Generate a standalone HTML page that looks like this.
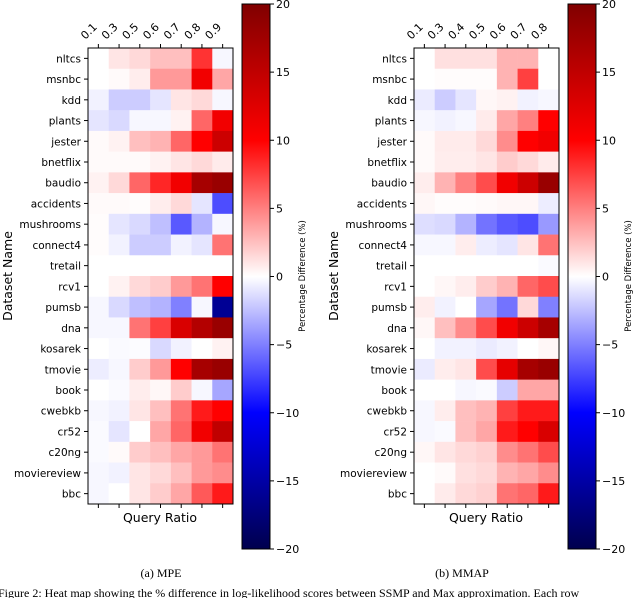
<!DOCTYPE html>
<html><head><meta charset="utf-8"><style>
body{margin:0;background:#fff;}
svg text{font-family:"DejaVu Sans","Liberation Sans",sans-serif;}
</style></head><body>
<svg id="fig" width="640" height="598" viewBox="0 0 640 598" xmlns="http://www.w3.org/2000/svg">
<defs>
<linearGradient id="seis" x1="0" y1="1" x2="0" y2="0">
<stop offset="0" stop-color="rgb(0,0,77)"/>
<stop offset="0.25" stop-color="rgb(0,0,255)"/>
<stop offset="0.5" stop-color="rgb(255,255,255)"/>
<stop offset="0.75" stop-color="rgb(255,0,0)"/>
<stop offset="1" stop-color="rgb(128,0,0)"/>
</linearGradient>
</defs>
<g id="root"></g>
<text x="161" y="577" text-anchor="middle" font-size="12" style="font-family:'Liberation Serif',serif">(a) MPE</text>
<text x="462" y="577" text-anchor="middle" font-size="12" style="font-family:'Liberation Serif',serif">(b) MMAP</text>
<text x="-2" y="597" font-size="12" style="font-family:'Liberation Serif',serif">Figure 2: Heat map showing the % difference in log-likelihood scores between SSMP and Max approximation. Each row</text>
</svg>
<script>
const datasets = ["nltcs","msnbc","kdd","plants","jester","bnetflix","baudio","accidents","mushrooms","connect4","tretail","rcv1","pumsb","dna","kosarek","tmovie","book","cwebkb","cr52","c20ng","moviereview","bbc"];
const mpeRatios = ["0.1","0.3","0.5","0.6","0.7","0.8","0.9"];
const mmapRatios = ["0.1","0.3","0.4","0.5","0.6","0.7","0.8"];
const cbTicks = [20,15,10,5,0,-5,-10,-15,-20];
const mpeValues = [
[0,1,1.5,2.5,2.5,8,-0.3],
[0,0.2,0.7,4,4,11,3.5],
[-0.5,-2,-2,-1,1,1.5,-0.3],
[-1,-1.5,-0.3,-0.3,0.5,6,11],
[0.2,0.5,2.5,3,6,10,14],
[0.2,0.2,0.2,0.5,1,1.5,0.8],
[0.5,1.5,6,8.5,11,17,18],
[0.2,0.2,0.1,0.7,1.5,-1,-7],
[0.1,-1,-1.5,-2.5,-6.5,-3,-0.3],
[0.1,-0.5,-2,-2,-0.5,-1,5.5],
[0,0,0,0,0,0,0],
[0,0.5,1.5,2,4,5.5,10],
[-0.3,-1.5,-2.5,-3,-5,-0.3,-16],
[-0.3,-0.3,5.5,7.5,13,16,18],
[0,-0.2,-0.1,-1.5,-0.5,0,0.5],
[-0.7,-0.3,2,4,10,17,18],
[0,-0.2,0.7,0.3,2,-0.3,-3.5],
[-0.3,-0.5,1,2.5,5.5,9,10],
[-0.2,-1,0,3.5,6,11,15],
[-0.2,0.2,2,2.5,3.5,4,5.5],
[-0.3,-0.5,1,1.5,2.5,4,4.5],
[-0.3,0,1,2,3.5,6.5,9]];
const mmapValues = [
[0,1.2,1.2,1.2,3,3,0],
[0,0.1,0.1,0.1,3,7.5,0],
[-0.8,-2,-1,0.3,0.5,-0.5,-0.3],
[-0.3,-0.5,-0.3,0.8,3.5,5,10],
[0.2,0.8,0.8,1.5,4.5,10,11],
[0.2,0.7,0.7,1,2,1.5,0.8],
[0.7,3,5,7,11,14,18],
[0.3,0.1,0.1,0.2,0.3,0.3,-0.7],
[-1.3,-1.5,-3,-5.5,-6.5,-7,-4],
[-0.3,-0.3,0.7,-0.7,-1,1,5.5],
[0,0,0,0,0,0,-0.2],
[0,0.3,0.7,2,3,6,7],
[0.7,-0.5,0,-3.5,-5.5,1.5,-5],
[0.3,2.5,4.5,7,11,14,17],
[0,-0.5,-0.5,-0.8,-0.5,0,0.3],
[-0.8,0.7,1,7,12,17,18],
[0,0,-0.3,-0.2,-2,3.5,3.5],
[-0.3,0.7,2.5,3,7.5,9,9],
[-0.3,-0.2,2.5,3.5,9,10,13],
[0.3,1,1.5,1.8,4.5,5.5,7],
[0,0.2,1.2,1.5,3,3.5,4.5],
[0,0.8,1.5,1.8,5.5,6,9]];

const NS="http://www.w3.org/2000/svg";
const root=document.getElementById('root');
function mk(tag,attrs,parent){const e=document.createElementNS(NS,tag);for(const k in attrs)e.setAttribute(k,attrs[k]);(parent||root).appendChild(e);return e;}
function seismic(v){
  let t=Math.max(0,Math.min(1,(v+20)/40));
  const st=[[0,[0,0,77]],[0.25,[0,0,255]],[0.5,[255,255,255]],[0.75,[255,0,0]],[1,[128,0,0]]];
  for(let i=0;i<4;i++){const a=st[i],b=st[i+1];if(t<=b[0]){const f=(t-a[0])/(b[0]-a[0]);return 'rgb('+a[1].map((c,j)=>Math.round(c+(b[1][j]-c)*f)).join(',')+')';}}
  return 'rgb(128,0,0)';
}
function heatmap(prefix,x0,values,ratios,cbx){
  const y0=48, cw=145/ratios.length, ch=456/datasets.length;
  const xs=i=>x0+i*cw, ys=j=>y0+j*ch;
  const g=mk('g',{});
  
  
  values.forEach((row,j)=>row.forEach((v,i)=>{
    const r=mk('rect',{x:xs(i),y:ys(j),width:cw+0.3,height:ch+0.3,fill:seismic(v)},g);
    
    
  }));
  mk('rect',{x:x0,y:y0,width:145,height:456,fill:'none',stroke:'#000','stroke-width':1},g);
  datasets.forEach((d,j)=>{
    const cy=ys(j)+ch/2;
    mk('line',{x1:x0-4,x2:x0,y1:cy,y2:cy,stroke:'#000'},g);
    const t=mk('text',{x:x0-7,y:cy+4,'text-anchor':'end','font-size':10.5},g);
    t.textContent=d;
    
    
  });
  ratios.forEach((r,i)=>{
    const cx=xs(i)+cw/2;
    mk('line',{x1:cx,x2:cx,y1:y0-4,y2:y0,stroke:'#000'},g);
    mk('line',{x1:cx,x2:cx,y1:y0+456,y2:y0+460,stroke:'#000'},g);
    const t=mk('text',{transform:'translate('+(cx-13)+',40) rotate(-45)','font-size':11},g);
    t.textContent=r;
    
    
  });
  const xl=mk('text',{x:x0+72,y:522,'text-anchor':'middle','font-size':12.5},g);
  xl.textContent='Query Ratio';
  
  
  const yl=mk('text',{transform:'translate('+(x0-76)+',276) rotate(-90)','text-anchor':'middle','font-size':12.5},g);
  yl.textContent='Dataset Name';
  
  
  const cb=mk('g',{});
  
  
  const top=4,bot=549,w=28;
  mk('rect',{x:cbx,y:top,width:w,height:bot-top,fill:'url(#seis)',stroke:'#000','stroke-width':1},cb);
  const cy=v=>top+(20-v)/40*(bot-top);
  cbTicks.forEach(v=>{
    mk('line',{x1:cbx+w,x2:cbx+w+4,y1:cy(v),y2:cy(v),stroke:'#000'},cb);
    const t=mk('text',{x:cbx+w+6,y:cy(v)+4,'font-size':11},cb);
    t.textContent=(v<0?'\u2212'+(-v):''+v);
    
    
  });
  const cl=mk('text',{transform:'translate('+(cbx+63)+',276) rotate(-90)','text-anchor':'middle','font-size':8.5},cb);
  cl.textContent='Percentage Difference (%)';
  
  
}
heatmap('mpe',88,mpeValues,mpeRatios,242);
heatmap('mmap',414,mmapValues,mmapRatios,568);
</script>
</body></html>
